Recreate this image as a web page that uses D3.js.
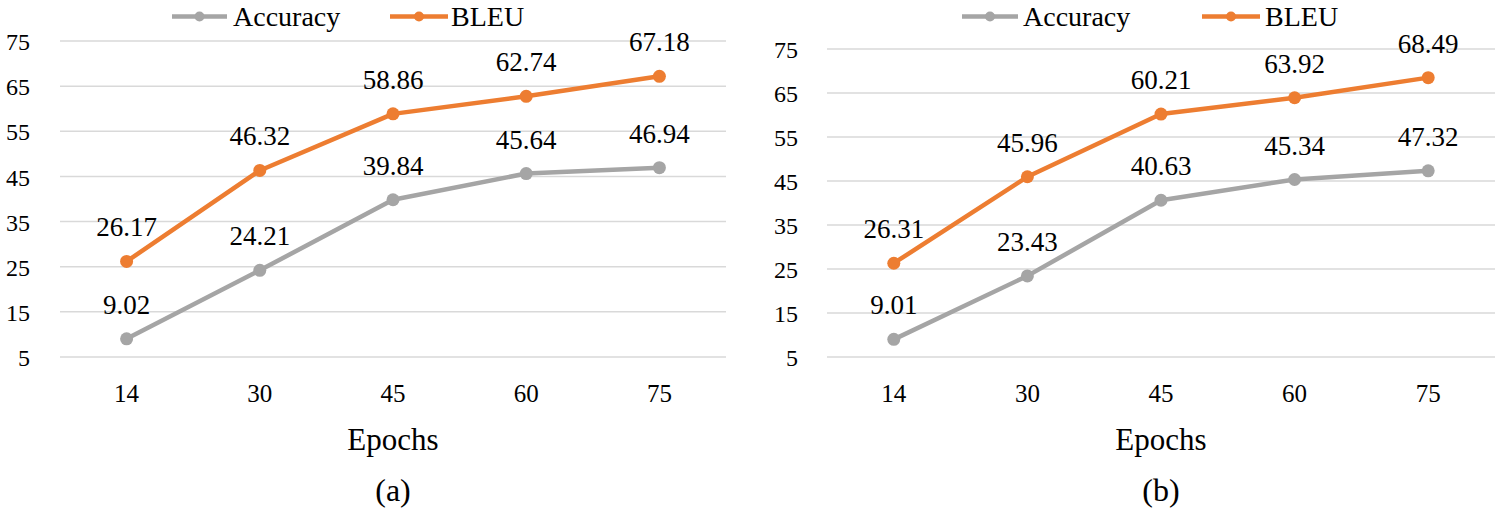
<!DOCTYPE html>
<html><head><meta charset="utf-8">
<script src="https://cdn.jsdelivr.net/npm/d3@7"></script>
<style>html,body{margin:0;padding:0;background:#fff;}svg{display:block;}</style>
</head><body>
<script>
const epochs = ["14","30","45","60","75"];
const accuracyA = [9.02, 24.21, 39.84, 45.64, 46.94];
const bleuA = [26.17, 46.32, 58.86, 62.74, 67.18];
const accuracyB = [9.01, 23.43, 40.63, 45.34, 47.32];
const bleuB = [26.31, 45.96, 60.21, 63.92, 68.49];
const yTicks = [5, 15, 25, 35, 45, 55, 65, 75];
const seriesNames = ["Accuracy", "BLEU"];
const panelLabels = ["(a)", "(b)"];

const W = 1499, H = 517;

function pickFont(cands) {
  const ctx = document.createElement("canvas").getContext("2d");
  const s = "Epochs Accuracy 0123456789 BLEU";
  const w = f => { ctx.font = "40px " + f; return ctx.measureText(s).width; };
  for (const c of cands) {
    const q = `"${c}"`;
    if (w(q + ", monospace") !== w("monospace") || w(q + ", sans-serif") !== w("sans-serif")) return q;
  }
  return "serif";
}
const FONT = pickFont(["Liberation Serif", "Times New Roman", "Tinos", "Nimbus Roman", "Noto Serif", "DejaVu Serif"]);
const colors = {Accuracy: "#A5A5A5", BLEU: "#ED7D31"};

const svg = d3.select("body").append("svg").attr("width", W).attr("height", H)
  .attr("font-family", FONT);

const panels = [
  {acc: accuracyA, bleu: bleuA, x0: 60, x1: 726, yTop: 41, yBot: 357, tickRight: 30,
   legend: [{name:"Accuracy", l0:172, l1:227, tx:233}, {name:"BLEU", l0:390, l1:448, tx:451}], label: panelLabels[0]},
  {acc: accuracyB, bleu: bleuB, x0: 827, x1: 1495, yTop: 49, yBot: 357, tickRight: 798,
   legend: [{name:"Accuracy", l0:962, l1:1018, tx:1023}, {name:"BLEU", l0:1202, l1:1260, tx:1265}], label: panelLabels[1]}
];

panels.forEach(p => {
  const g = svg.append("g");
  const x = d3.scaleBand().domain(epochs).range([p.x0, p.x1]);
  const y = d3.scaleLinear().domain([5, 75]).range([p.yBot, p.yTop]);
  const cx = d => x(d) + x.bandwidth() / 2;

  g.selectAll("line.grid").data(yTicks).enter().append("line")
    .attr("x1", p.x0).attr("x2", p.x1)
    .attr("y1", d => y(d)).attr("y2", d => y(d))
    .attr("stroke", "#D9D9D9").attr("stroke-width", 1.5);

  const yAxis = g.append("g").attr("transform", `translate(${p.tickRight},0)`)
    .call(d3.axisLeft(y).tickValues(yTicks).tickSize(0).tickPadding(0));
  yAxis.attr("font-family", FONT).attr("font-size", 24);
  yAxis.select(".domain").remove();
  yAxis.selectAll("text").attr("fill", "#000").attr("dy", "0.36em");

  const xAxis = g.append("g").attr("transform", `translate(0,${p.yBot})`)
    .call(d3.axisBottom(x).tickSize(0).tickPadding(0));
  xAxis.attr("font-family", FONT).attr("font-size", 25);
  xAxis.select(".domain").remove();
  xAxis.selectAll("text").attr("fill", "#000").attr("dy", null).attr("y", 45);

  const mid = (p.x0 + p.x1) / 2;
  g.append("text").attr("x", mid).attr("y", 450).attr("text-anchor", "middle")
    .attr("font-size", 31).attr("fill", "#000").text("Epochs");
  g.append("text").attr("x", mid).attr("y", 501).attr("text-anchor", "middle")
    .attr("font-size", 32).attr("fill", "#000").text(p.label);

  const line = d3.line().x((d, i) => cx(epochs[i])).y(d => y(d));
  [["Accuracy", p.acc], ["BLEU", p.bleu]].forEach(([name, vals]) => {
    const c = colors[name];
    g.append("path").datum(vals).attr("d", line).attr("fill", "none")
      .attr("stroke", c).attr("stroke-width", 4.5).attr("stroke-linejoin", "round");
    g.selectAll(null).data(vals).enter().append("circle")
      .attr("cx", (d, i) => cx(epochs[i])).attr("cy", d => y(d)).attr("r", 6.5).attr("fill", c);
    g.selectAll(null).data(vals).enter().append("text")
      .attr("x", (d, i) => cx(epochs[i])).attr("y", d => y(d) - 25)
      .attr("text-anchor", "middle").attr("font-size", 27).attr("fill", "#000")
      .text(d => d.toFixed(2));
  });

  p.legend.forEach(l => {
    const c = colors[l.name];
    g.append("line").attr("x1", l.l0).attr("x2", l.l1).attr("y1", 16.5).attr("y2", 16.5)
      .attr("stroke", c).attr("stroke-width", 4.5);
    g.append("circle").attr("cx", (l.l0 + l.l1) / 2).attr("cy", 16.5).attr("r", 5).attr("fill", c);
    g.append("text").attr("x", l.tx).attr("y", 26).attr("font-size", 28).attr("fill", "#000").text(l.name);
  });
});
</script>
</body></html>
